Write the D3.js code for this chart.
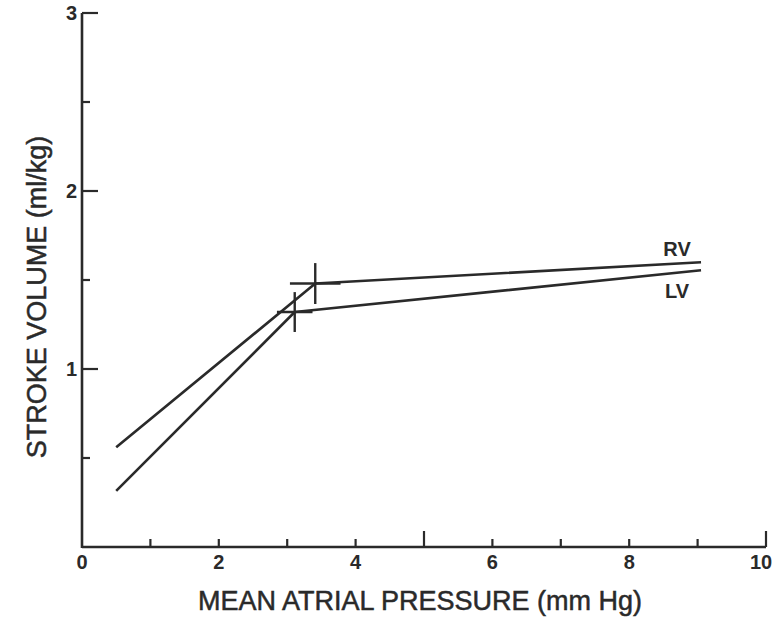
<!DOCTYPE html>
<html>
<head>
<meta charset="utf-8">
<script src="https://cdn.jsdelivr.net/npm/d3@7"></script>
<style>
  html, body { margin: 0; padding: 0; background: #ffffff; }
  svg { display: block; }
  text { font-family: "Liberation Sans", Arial, Helvetica, sans-serif; }
</style>
</head>
<body>
<div id="chart"></div>
<script>
// ---- data ----
const seriesNames = ["RV", "LV"];
// each series: start point, break point, end point (x = mean atrial pressure, y = stroke volume)
const rvX = [0.5, 3.41, 9.05];
const rvY = [0.56, 1.48, 1.60];
const lvX = [0.5, 3.11, 9.05];
const lvY = [0.315, 1.32, 1.555];
// error bars at the break point: [x half-width, y half-height]
const rvErr = [0.37, 0.115];
const lvErr = [0.26, 0.112];
const xTickLabels = [0, 2, 4, 6, 8, 10];
const xTicksAll = [1, 2, 3, 4, 5, 6, 7, 8, 9, 10];
const xLongTicks = [5, 10];
const yTickLabels = [0, 1, 2, 3];
const yMinorTicks = [0.5, 1.5, 2.5];
const xTitle = "MEAN ATRIAL PRESSURE (mm Hg)";
const yTitle = "STROKE VOLUME (ml/kg)";

const W = 775, H = 627;
const ink = "#2a2a2a";
const svg = d3.select("#chart").append("svg").attr("width", W).attr("height", H);

const x = d3.scaleLinear().domain([0, 10]).range([82, 766]);
const y = d3.scaleLinear().domain([0, 3]).range([547, 13]);

const g = svg.append("g");

// axes lines
g.append("line").attr("x1", x(0)).attr("x2", x(10)).attr("y1", y(0)).attr("y2", y(0))
  .attr("stroke", ink).attr("stroke-width", 2.6);
g.append("line").attr("x1", x(0)).attr("x2", x(0)).attr("y1", y(0) + 1).attr("y2", y(3))
  .attr("stroke", ink).attr("stroke-width", 2.6);

// x ticks (pointing inward / up)
g.selectAll(".xt").data(xTicksAll).enter().append("line")
  .attr("x1", d => x(d)).attr("x2", d => x(d))
  .attr("y1", y(0)).attr("y2", d => y(0) - (xLongTicks.includes(d) ? 16 : 8))
  .attr("stroke", ink).attr("stroke-width", 2.2);

// y ticks (pointing inward / right)
g.selectAll(".yt").data(yTickLabels.filter(d => d > 0)).enter().append("line")
  .attr("x1", x(0)).attr("x2", x(0) + 16)
  .attr("y1", d => y(d)).attr("y2", d => y(d))
  .attr("stroke", ink).attr("stroke-width", 2.2);
g.selectAll(".ym").data(yMinorTicks).enter().append("line")
  .attr("x1", x(0)).attr("x2", x(0) + 8)
  .attr("y1", d => y(d)).attr("y2", d => y(d))
  .attr("stroke", ink).attr("stroke-width", 2.2);

// tick labels (the last one is kept inside the page edge)
g.selectAll(".xl").data(xTickLabels).enter().append("text")
  .attr("x", d => Math.min(x(d), W - 14)).attr("y", y(0) + 22)
  .attr("text-anchor", "middle")
  .attr("font-size", 20).attr("font-weight", "bold").attr("fill", ink)
  .text(d => d);
g.selectAll(".yl").data(yTickLabels.filter(d => d > 0)).enter().append("text")
  .attr("x", x(0) - 5).attr("y", d => y(d) + 7)
  .attr("text-anchor", "end")
  .attr("font-size", 20).attr("font-weight", "bold").attr("fill", ink)
  .text(d => d);

// axis titles
svg.append("text").attr("x", 420).attr("y", 610)
  .attr("text-anchor", "middle").attr("font-size", 27).attr("fill", ink)
  .attr("stroke", ink).attr("stroke-width", 0.5)
  .text(xTitle);
svg.append("text").attr("transform", "translate(46,297) rotate(-90)")
  .attr("text-anchor", "middle").attr("font-size", 27).attr("fill", ink)
  .attr("stroke", ink).attr("stroke-width", 0.5)
  .text(yTitle);

// series
const series = [
  { name: seriesNames[0], xs: rvX, ys: rvY, err: rvErr },
  { name: seriesNames[1], xs: lvX, ys: lvY, err: lvErr }
];
const line = d3.line().x(d => x(d[0])).y(d => y(d[1]));
series.forEach(s => {
  const pts = s.xs.map((v, i) => [v, s.ys[i]]);
  g.append("path").attr("d", line(pts)).attr("fill", "none")
    .attr("stroke", ink).attr("stroke-width", 2.6).attr("stroke-linejoin", "round");
  const bx = s.xs[1], by = s.ys[1];
  g.append("line").attr("x1", x(bx - s.err[0])).attr("x2", x(bx + s.err[0]))
    .attr("y1", y(by)).attr("y2", y(by)).attr("stroke", ink).attr("stroke-width", 2.6);
  g.append("line").attr("x1", x(bx)).attr("x2", x(bx))
    .attr("y1", y(by - s.err[1])).attr("y2", y(by + s.err[1])).attr("stroke", ink).attr("stroke-width", 2.4);
});

// series labels near right ends
g.append("text").attr("x", x(rvX[2]) - 24).attr("y", y(rvY[2]) - 6)
  .attr("text-anchor", "middle").attr("font-size", 20).attr("font-weight", "bold").attr("fill", ink)
  .text(seriesNames[0]);
g.append("text").attr("x", x(lvX[2]) - 24).attr("y", y(lvY[2]) + 28)
  .attr("text-anchor", "middle").attr("font-size", 20).attr("font-weight", "bold").attr("fill", ink)
  .text(seriesNames[1]);
</script>
</body>
</html>
